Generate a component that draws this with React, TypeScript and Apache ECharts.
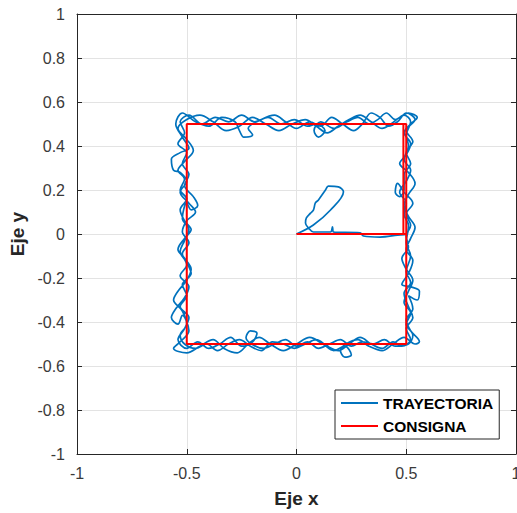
import React, { useEffect, useRef } from "react";
import * as echarts from "echarts";

const xTicks = { min: -1, max: 1, interval: 0.5 };
const yTicks = { min: -1, max: 1, interval: 0.2 };
const seriesNames = ["TRAYECTORIA", "CONSIGNA"];

const consigna: number[][] = [
  [0, 0], [0.5, 0], [0.5, 0.5], [-0.5, 0.5], [-0.5, -0.5], [0.5, -0.5], [0.5, 0], [0.487, 0], [0.487, 0.5], [0.5, 0.5],
];

const trayStart: number[][] = [
  [0.0, 0.0], [0.077, 0.041], [0.155, 0.109], [0.214, 0.192], [0.191, 0.214], [0.145, 0.218], [0.132, 0.2],
  [0.1, 0.155], [0.086, 0.141], [0.077, 0.109], [0.064, 0.095], [0.045, 0.073], [0.041, 0.05], [0.055, 0.027],
  [0.077, 0.009], [0.155, 0.009], [0.164, 0.032], [0.168, 0.009], [0.29, 0.005], [0.305, -0.009], [0.38, -0.014],
  [0.46, -0.005], [0.5, 0.0],
];

const trayLap1: number[][] = [
  [0.51, 0.04], [0.49, 0.09], [0.5, 0.14], [0.47, 0.19], [0.5, 0.24], [0.52, 0.29], [0.49, 0.34], [0.51, 0.4], [0.5, 0.45], [0.52, 0.51],
  [0.49, 0.54], [0.45, 0.52], [0.41, 0.55], [0.37, 0.52], [0.33, 0.5], [0.28, 0.53], [0.23, 0.51], [0.17, 0.48], [0.11, 0.51],
  [0.08, 0.47], [0.1, 0.44], [0.13, 0.47], [0.09, 0.5], [0.05, 0.49],
  [-0.01, 0.52], [-0.07, 0.5], [-0.13, 0.53], [-0.19, 0.51], [-0.25, 0.54], [-0.31, 0.51], [-0.37, 0.53], [-0.43, 0.5], [-0.49, 0.54], [-0.53, 0.51],
  [-0.51, 0.46], [-0.54, 0.41], [-0.5, 0.37], [-0.52, 0.32], [-0.49, 0.27], [-0.51, 0.22], [-0.47, 0.17], [-0.45, 0.13], [-0.48, 0.11], [-0.5, 0.14],
  [-0.52, 0.07], [-0.49, 0.02],
  [-0.51, -0.03], [-0.53, -0.08], [-0.5, -0.13], [-0.48, -0.18], [-0.52, -0.23], [-0.5, -0.28], [-0.53, -0.33], [-0.49, -0.38], [-0.51, -0.43], [-0.54, -0.48], [-0.5, -0.52],
  [-0.45, -0.49], [-0.4, -0.52], [-0.35, -0.5], [-0.3, -0.47], [-0.25, -0.51], [-0.2, -0.49], [-0.18, -0.45], [-0.21, -0.44], [-0.23, -0.47],
  [-0.15, -0.52], [-0.1, -0.5], [-0.05, -0.48], [0, -0.51],
  [0.05, -0.49], [0.1, -0.52], [0.15, -0.5], [0.2, -0.48], [0.25, -0.51], [0.3, -0.49], [0.35, -0.5], [0.4, -0.48], [0.45, -0.51], [0.51, -0.5],
];

const trayLap2: number[][] = [
  [0.53, -0.46], [0.5, -0.41], [0.52, -0.36], [0.49, -0.31], [0.51, -0.26], [0.53, -0.21], [0.5, -0.16], [0.48, -0.11], [0.51, -0.06], [0.5, -0.01],
  [0.52, 0.04], [0.5, 0.09], [0.53, 0.14], [0.49, 0.19], [0.46, 0.23], [0.45, 0.19], [0.47, 0.17], [0.49, 0.2], [0.49, 0.27], [0.52, 0.32], [0.5, 0.37], [0.53, 0.42], [0.5, 0.47], [0.54, 0.52],
  [0.5, 0.55], [0.46, 0.51], [0.42, 0.49], [0.38, 0.53], [0.34, 0.55], [0.3, 0.5], [0.26, 0.47], [0.21, 0.5], [0.16, 0.53], [0.11, 0.49], [0.06, 0.51],
  [0.0, 0.48], [-0.05, 0.51], [-0.1, 0.54], [-0.16, 0.52], [-0.22, 0.48], [-0.2, 0.45], [-0.24, 0.44], [-0.26, 0.47], [-0.28, 0.51], [-0.34, 0.53], [-0.4, 0.49], [-0.46, 0.51], [-0.52, 0.55], [-0.55, 0.5],
  [-0.52, 0.44], [-0.49, 0.39], [-0.53, 0.37], [-0.57, 0.34], [-0.56, 0.29], [-0.53, 0.28], [-0.5, 0.24], [-0.53, 0.19], [-0.49, 0.14], [-0.46, 0.1], [-0.5, 0.06], [-0.52, 0.01],
  [-0.49, -0.04], [-0.52, -0.09], [-0.5, -0.14], [-0.53, -0.19], [-0.49, -0.24], [-0.51, -0.29], [-0.55, -0.34], [-0.57, -0.38], [-0.54, -0.41], [-0.52, -0.37], [-0.49, -0.44], [-0.53, -0.49], [-0.56, -0.52],
  [-0.5, -0.54], [-0.44, -0.51], [-0.38, -0.48], [-0.33, -0.52], [-0.27, -0.54], [-0.22, -0.5], [-0.17, -0.47], [-0.12, -0.5], [-0.06, -0.53], [0, -0.5],
  [0.06, -0.47], [0.12, -0.5], [0.17, -0.53], [0.22, -0.51], [0.25, -0.55], [0.22, -0.56], [0.2, -0.53], [0.28, -0.48], [0.33, -0.51], [0.39, -0.53], [0.44, -0.5], [0.49, -0.47], [0.54, -0.5], [0.56, -0.49],
];

const trayLap3: number[][] = [
  [0.52, -0.44], [0.5, -0.39], [0.53, -0.34], [0.51, -0.28], [0.55, -0.3], [0.56, -0.26], [0.52, -0.24], [0.48, -0.23], [0.51, -0.18], [0.53, -0.12], [0.5, -0.07], [0.52, -0.02], [0.54, 0.03],
  [0.51, 0.08], [0.49, 0.13], [0.51, 0.18], [0.54, 0.23], [0.51, 0.28], [0.47, 0.32], [0.5, 0.36], [0.52, 0.41], [0.49, 0.46], [0.52, 0.5],
  [0.55, 0.53], [0.51, 0.55], [0.47, 0.53], [0.43, 0.5], [0.39, 0.48], [0.34, 0.51], [0.29, 0.54], [0.24, 0.52], [0.19, 0.49], [0.14, 0.46], [0.09, 0.49],
  [0.04, 0.52], [-0.02, 0.5], [-0.08, 0.47], [-0.14, 0.5], [-0.2, 0.53], [-0.26, 0.49], [-0.32, 0.47], [-0.38, 0.51], [-0.44, 0.54], [-0.5, 0.52], [-0.54, 0.48],
  [-0.5, 0.43], [-0.47, 0.38], [-0.51, 0.33], [-0.54, 0.29], [-0.51, 0.25], [-0.53, 0.2], [-0.5, 0.16], [-0.53, 0.11], [-0.51, 0.06], [-0.48, 0.02],
  [-0.51, -0.02], [-0.54, -0.07], [-0.51, -0.11], [-0.48, -0.16], [-0.5, -0.21], [-0.54, -0.26], [-0.56, -0.3], [-0.52, -0.35], [-0.5, -0.41], [-0.53, -0.46], [-0.51, -0.5],
  [-0.46, -0.52], [-0.41, -0.5], [-0.36, -0.53], [-0.31, -0.5], [-0.26, -0.48], [-0.21, -0.51], [-0.16, -0.53], [-0.11, -0.49], [-0.06, -0.5], [-0.01, -0.52],
  [0.04, -0.5], [0.09, -0.48], [0.14, -0.51], [0.19, -0.53], [0.24, -0.5], [0.29, -0.47], [0.34, -0.5], [0.39, -0.52], [0.44, -0.49], [0.48, -0.51], [0.52, -0.48],
];

const trayEnd: number[][] = [
  [0.5, -0.43], [0.53, -0.38], [0.51, -0.33], [0.49, -0.27], [0.52, -0.22], [0.5, -0.17], [0.52, -0.1], [0.5, -0.04], [0.51, 0.02],
];

const FONT = "'Liberation Sans', Arial, Helvetica, sans-serif";
const AXIS_COLOR = "#262626";
const TEXT_COLOR = "#3a3a3a";
const GRID_COLOR = "#e3e3e3";

export default function App() {
  const ref = useRef<HTMLDivElement>(null);
  useEffect(() => {
    if (!ref.current) return;
    const chart = echarts.init(ref.current, null, { renderer: "svg" });
    const trajectory = [...trayStart, ...trayLap1, ...trayLap2, ...trayLap3, ...trayEnd];
    const baseAxis = {
      type: "value" as const,
      axisLine: { show: true, onZero: false, lineStyle: { color: AXIS_COLOR, width: 1 } },
      axisTick: { show: true, inside: true, length: 5, lineStyle: { color: AXIS_COLOR } },
    };
    chart.setOption({
      animation: false,
      backgroundColor: "#ffffff",
      grid: { left: 77, right: 1, top: 14, bottom: 59, containLabel: false, outerBoundsMode: "none" },
      xAxis: [
        {
          ...baseAxis,
          ...xTicks,
          position: "bottom",
          name: "Eje x",
          nameLocation: "middle",
          nameGap: 35,
          nameTextStyle: { fontFamily: FONT, fontSize: 19, fontWeight: "bold", color: AXIS_COLOR },
          axisLabel: { fontFamily: FONT, fontSize: 16, color: TEXT_COLOR, margin: 11 },
          splitLine: { show: true, lineStyle: { color: GRID_COLOR, width: 1 } },
        },
        {
          ...baseAxis,
          ...xTicks,
          position: "top",
          axisLabel: { show: false },
          splitLine: { show: false },
        },
      ],
      yAxis: [
        {
          ...baseAxis,
          ...yTicks,
          position: "left",
          name: "Eje y",
          nameLocation: "middle",
          nameGap: 39,
          nameTextStyle: { fontFamily: FONT, fontSize: 19, fontWeight: "bold", color: AXIS_COLOR },
          axisLabel: { fontFamily: FONT, fontSize: 16, color: TEXT_COLOR, margin: 12 },
          splitLine: { show: true, lineStyle: { color: GRID_COLOR, width: 1 } },
        },
        {
          ...baseAxis,
          ...yTicks,
          position: "right",
          axisLabel: { show: false },
          splitLine: { show: false },
        },
      ],
      legend: {
        orient: "vertical",
        left: 335,
        top: 390,
        padding: [5, 6, 5, 6],
        itemGap: 7,
        itemWidth: 37,
        itemHeight: 2,
        backgroundColor: "#ffffff",
        borderColor: AXIS_COLOR,
        borderWidth: 1,
        borderRadius: 0,
        textStyle: { fontFamily: FONT, fontSize: 15.5, fontWeight: "bold", color: "#000000" },
        data: seriesNames.map((n) => ({ name: n, icon: "rect" })),
      },
      series: [
        {
          name: seriesNames[0],
          type: "line",
          xAxisIndex: 0,
          yAxisIndex: 0,
          data: trajectory,
          showSymbol: false,
          symbol: "none",
          smooth: 0.35,
          lineStyle: { color: "#0072BD", width: 1.7 },
          itemStyle: { color: "#0072BD" },
        },
        {
          name: seriesNames[1],
          type: "line",
          xAxisIndex: 0,
          yAxisIndex: 0,
          data: consigna,
          showSymbol: false,
          symbol: "none",
          lineStyle: { color: "#FF0000", width: 2 },
          itemStyle: { color: "#FF0000" },
        },
      ],
    });
    return () => chart.dispose();
  }, []);
  return <div ref={ref} style={{ position: "absolute", left: 0, top: 0, width: 517, height: 513 }} />;
}
